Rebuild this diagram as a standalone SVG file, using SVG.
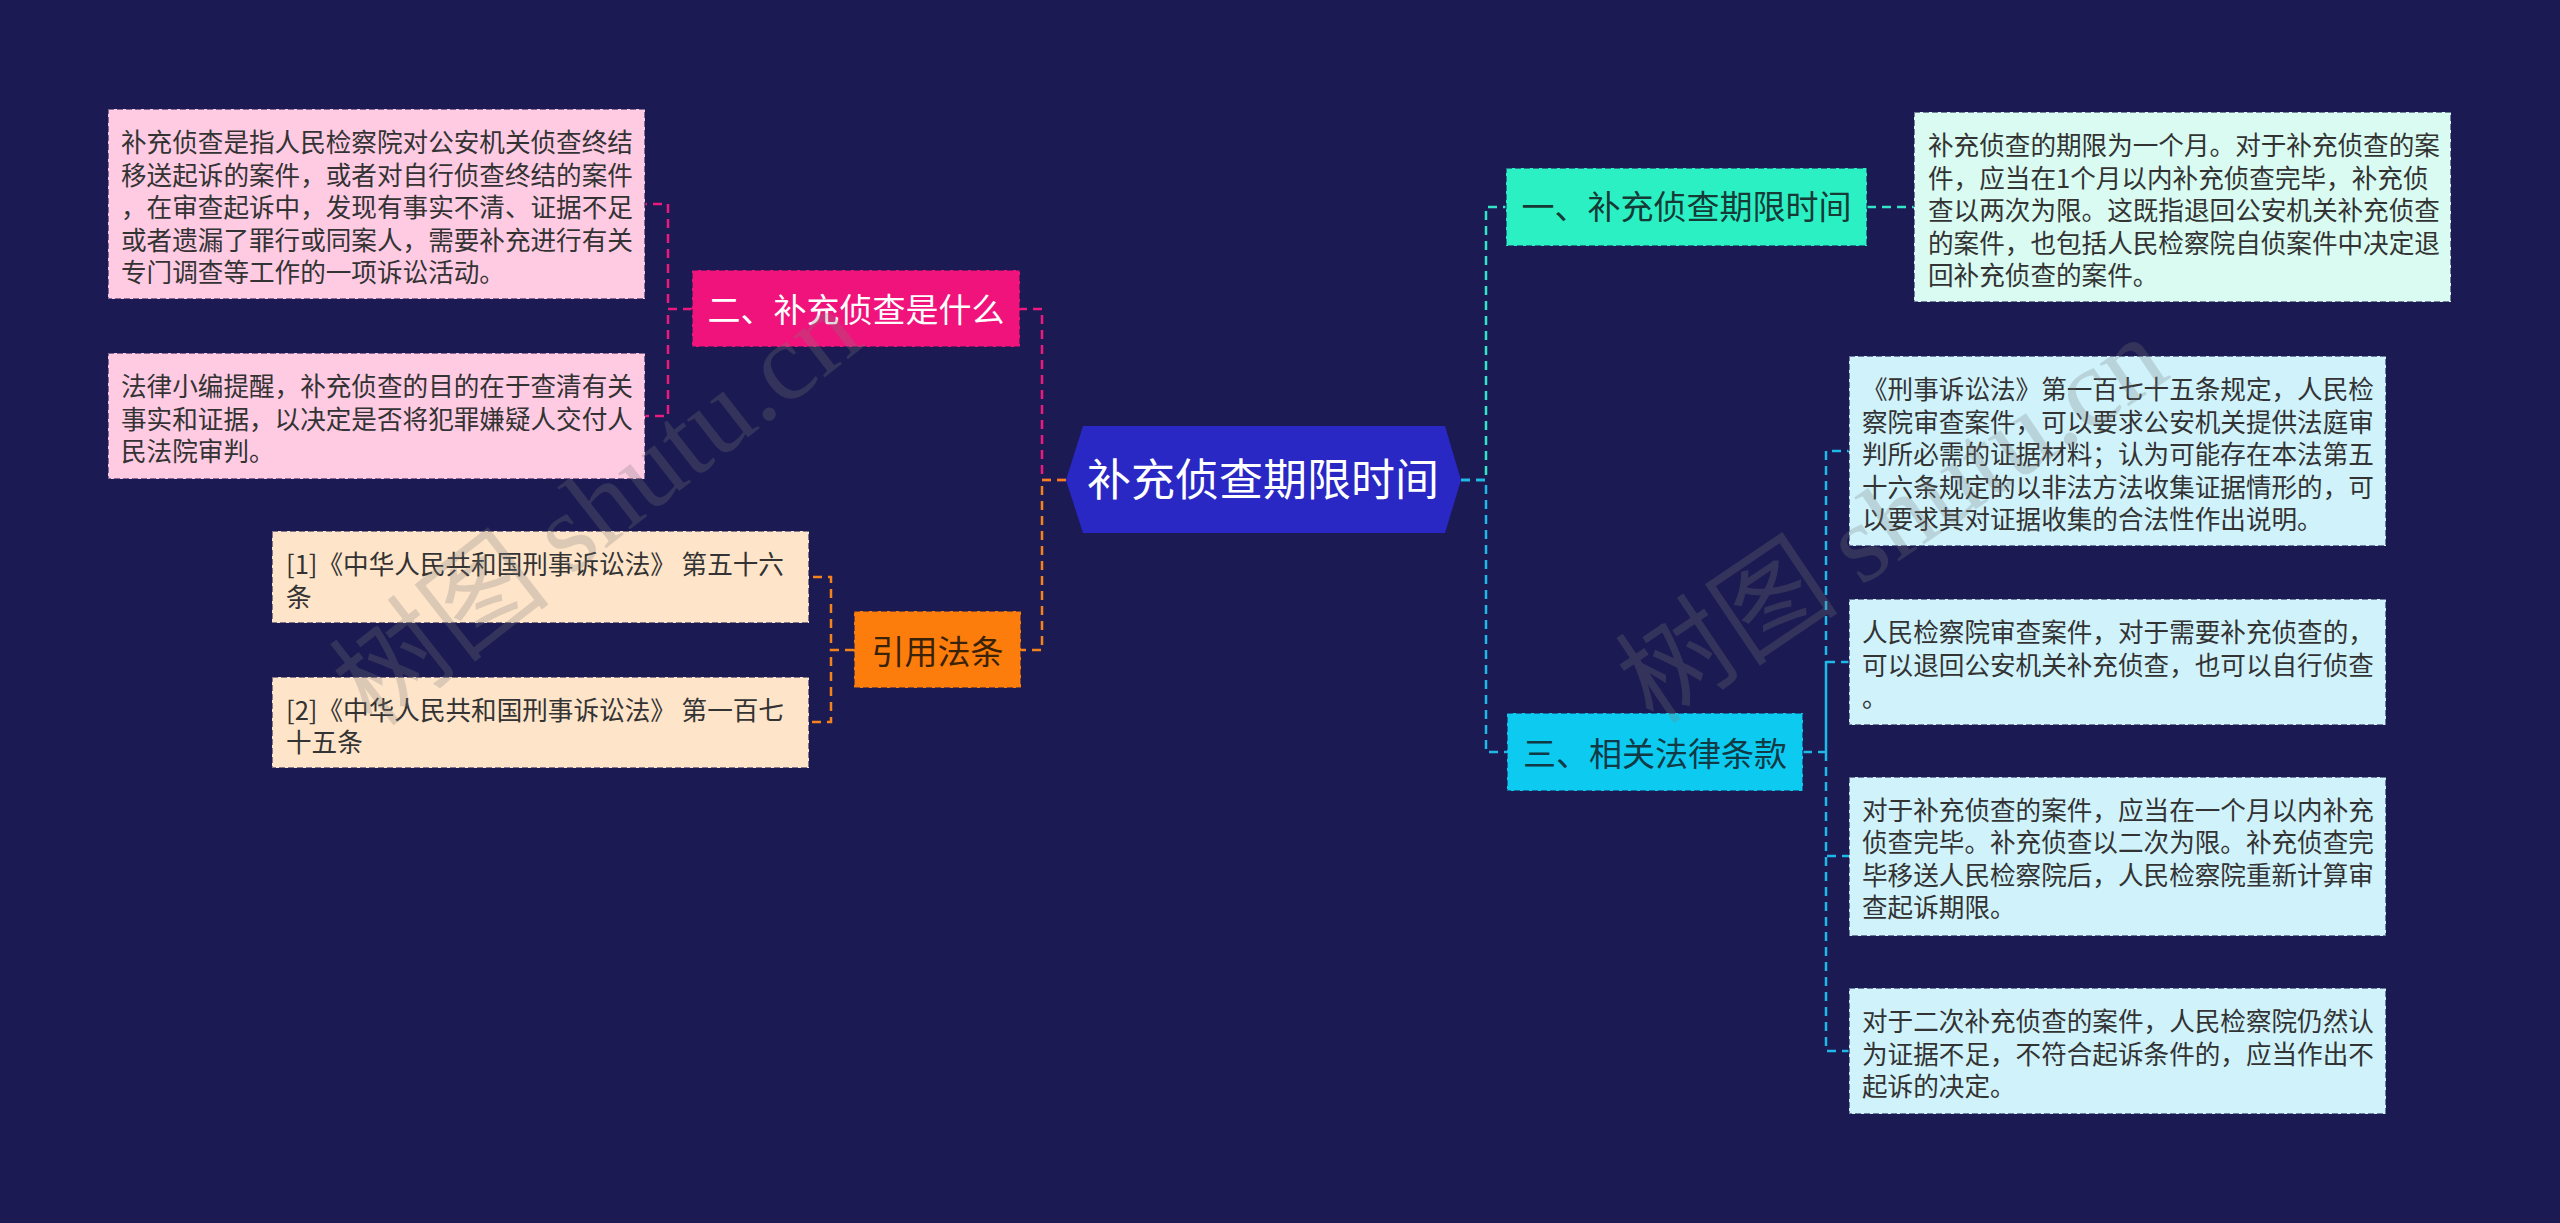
<svg xmlns="http://www.w3.org/2000/svg" width="2560" height="1223" viewBox="0 0 2560 1223">
<defs>
<style>
text{font-family:"Noto Sans CJK SC","Noto Sans",sans-serif;}
.box{stroke:#1b1a52;stroke-opacity:.55;stroke-width:2;stroke-dasharray:6 3;}
.leaf{font-size:25.6px;fill:#333;}
.nt{font-size:33px;text-anchor:middle;}
.con{fill:none;stroke-width:2.5;stroke-dasharray:9 6;}
.wm{font-size:112px;fill:#7a7a7a;fill-opacity:.26;}
</style>
</defs>
<rect width="2560" height="1223" fill="#1b1a52"/>

<g id="connectors">
<path class="con" stroke="#ec1a7e" d="M1066,480 H1042 V309 H1020 M692,309 H668 V204 H645 M692,309 H668 V416 H645"/>
<path class="con" stroke="#f5831c" d="M1066,480 H1042 V650 H1021 M854,650 H831 V577 H809 M854,650 H831 V722 H809"/>
<path class="con" stroke="#30e6c6" d="M1461,480 H1486 V207 H1506 M1867,207 H1914"/>
<path class="con" stroke="#1db9e8" d="M1461,480 H1486 V752 H1507 M1803,752 H1826 V451 H1849 M1826,752 V662 H1849 M1826,752 V856 H1849 M1826,752 V1051 H1849"/>
</g>

<g id="center">
<polygon points="1066,480 1083,426 1445,426 1461,480 1445,533 1083,533" fill="#2a28c4"/>
<text x="1263" y="496" font-size="44" text-anchor="middle" fill="#ffffff">补充侦查期限时间</text>
</g>

<g id="node-er">
<rect class="box" x="692" y="270" width="328" height="77" fill="#ef137b"/>
<text class="nt" x="856" y="322" fill="#ffffff">二、补充侦查是什么</text>
</g>
<g id="leaf-er-1">
<rect class="box" x="108" y="109" width="537" height="190" fill="#fecbe3"/>
<text class="leaf" x="121"><tspan x="121" y="152">补充侦查是指人民检察院对公安机关侦查终结</tspan><tspan x="121" y="184.5">移送起诉的案件，或者对自行侦查终结的案件</tspan><tspan x="121" y="217">，在审查起诉中，发现有事实不清、证据不足</tspan><tspan x="121" y="249.5">或者遗漏了罪行或同案人，需要补充进行有关</tspan><tspan x="121" y="282">专门调查等工作的一项诉讼活动。</tspan></text>
</g>
<g id="leaf-er-2">
<rect class="box" x="108" y="353" width="537" height="126" fill="#fecbe3"/>
<text class="leaf" x="121"><tspan x="121" y="396">法律小编提醒，补充侦查的目的在于查清有关</tspan><tspan x="121" y="428.5">事实和证据，以决定是否将犯罪嫌疑人交付人</tspan><tspan x="121" y="461">民法院审判。</tspan></text>
</g>

<g id="node-yinyong">
<rect class="box" x="854" y="611" width="167" height="77" fill="#fc7d0c"/>
<text class="nt" x="937.5" y="664" fill="#3a2208">引用法条</text>
</g>
<g id="leaf-yy-1">
<rect class="box" x="272" y="531" width="537" height="92" fill="#fee4c9"/>
<text class="leaf" x="286" fill="#3a2a1a"><tspan x="286" y="574">[1]《中华人民共和国刑事诉讼法》 第五十六</tspan><tspan x="286" y="606.5">条</tspan></text>
</g>
<g id="leaf-yy-2">
<rect class="box" x="272" y="677" width="537" height="91" fill="#fee4c9"/>
<text class="leaf" x="286" fill="#3a2a1a"><tspan x="286" y="719.5">[2]《中华人民共和国刑事诉讼法》 第一百七</tspan><tspan x="286" y="752">十五条</tspan></text>
</g>

<g id="node-yi">
<rect class="box" x="1506" y="168" width="361" height="78" fill="#2bf0c3"/>
<text class="nt" x="1686.5" y="219" fill="#163a36">一、补充侦查期限时间</text>
</g>
<g id="leaf-yi-1">
<rect class="box" x="1914" y="112" width="537" height="190" fill="#d9fbf1"/>
<text class="leaf" x="1928" fill="#1e3434"><tspan x="1928" y="155">补充侦查的期限为一个月。对于补充侦查的案</tspan><tspan x="1928" y="187.5">件，应当在1个月以内补充侦查完毕，补充侦</tspan><tspan x="1928" y="220">查以两次为限。这既指退回公安机关补充侦查</tspan><tspan x="1928" y="252.5">的案件，也包括人民检察院自侦案件中决定退</tspan><tspan x="1928" y="285">回补充侦查的案件。</tspan></text>
</g>

<g id="node-san">
<rect class="box" x="1507" y="713" width="296" height="78" fill="#0dcbf0"/>
<text class="nt" x="1655" y="766" fill="#103a46">三、相关法律条款</text>
</g>
<g id="leaf-san-1">
<rect class="box" x="1849" y="356" width="537" height="190" fill="#cff2fb"/>
<text class="leaf" x="1862" fill="#1e3038"><tspan x="1862" y="399">《刑事诉讼法》第一百七十五条规定，人民检</tspan><tspan x="1862" y="431.5">察院审查案件，可以要求公安机关提供法庭审</tspan><tspan x="1862" y="464">判所必需的证据材料；认为可能存在本法第五</tspan><tspan x="1862" y="496.5">十六条规定的以非法方法收集证据情形的，可</tspan><tspan x="1862" y="529">以要求其对证据收集的合法性作出说明。</tspan></text>
</g>
<g id="leaf-san-2">
<rect class="box" x="1849" y="599" width="537" height="126" fill="#cff2fb"/>
<text class="leaf" x="1862" fill="#1e3038"><tspan x="1862" y="642">人民检察院审查案件，对于需要补充侦查的，</tspan><tspan x="1862" y="674.5">可以退回公安机关补充侦查，也可以自行侦查</tspan><tspan x="1862" y="707">。</tspan></text>
</g>
<g id="leaf-san-3">
<rect class="box" x="1849" y="777" width="537" height="159" fill="#cff2fb"/>
<text class="leaf" x="1862" fill="#1e3038"><tspan x="1862" y="819.5">对于补充侦查的案件，应当在一个月以内补充</tspan><tspan x="1862" y="852">侦查完毕。补充侦查以二次为限。补充侦查完</tspan><tspan x="1862" y="884.5">毕移送人民检察院后，人民检察院重新计算审</tspan><tspan x="1862" y="917">查起诉期限。</tspan></text>
</g>
<g id="leaf-san-4">
<rect class="box" x="1849" y="988" width="537" height="126" fill="#cff2fb"/>
<text class="leaf" x="1862" fill="#1e3038"><tspan x="1862" y="1031">对于二次补充侦查的案件，人民检察院仍然认</tspan><tspan x="1862" y="1063.5">为证据不足，不符合起诉条件的，应当作出不</tspan><tspan x="1862" y="1096">起诉的决定。</tspan></text>
</g>

<g id="watermarks">
<text class="wm" transform="translate(392,662) rotate(-38)" x="-56" y="42">树图 <tspan font-family="Liberation Serif, serif">shutu.cn</tspan></text>
<text class="wm" transform="translate(1677,660) rotate(-34)" x="-56" y="42">树图 <tspan font-family="Liberation Serif, serif">shutu.cn</tspan></text>
</g>
</svg>
